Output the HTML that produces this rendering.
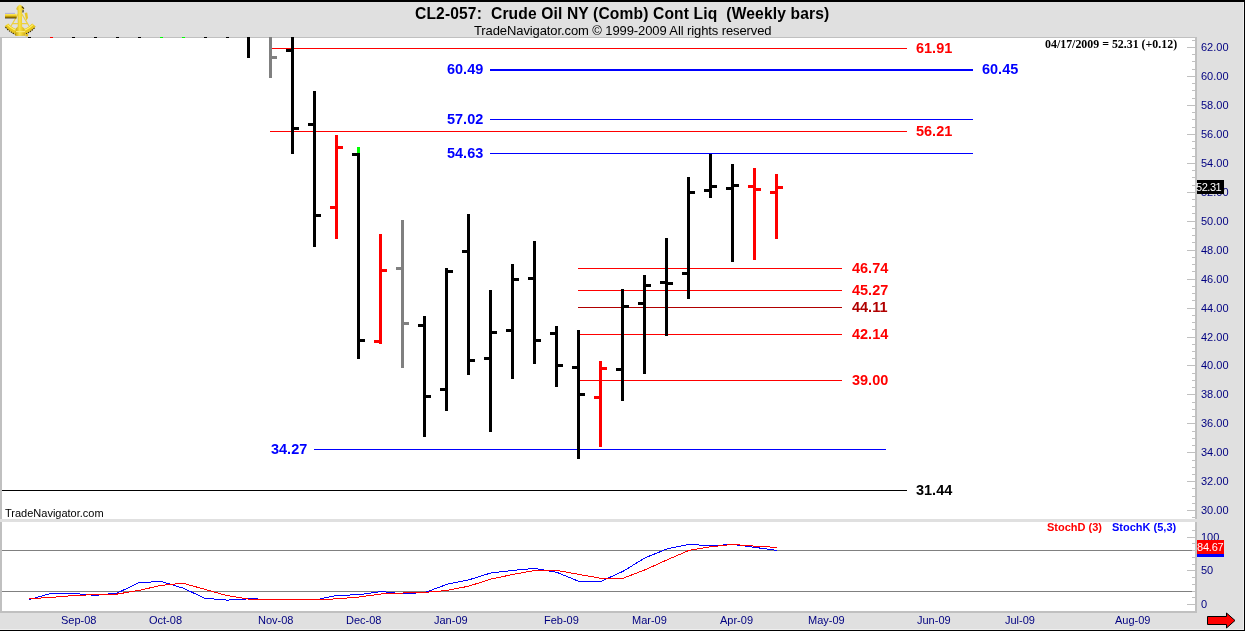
<!DOCTYPE html>
<html><head><meta charset="utf-8"><title>CL2-057</title>
<style>
html,body{margin:0;padding:0}
body{width:1245px;height:631px;overflow:hidden;background:#e0e0e0;position:relative;font-family:"Liberation Sans",sans-serif}
#c{position:absolute;left:0;top:0;width:1245px;height:631px;overflow:hidden;will-change:transform}
#c i{position:absolute;display:block}
.t{position:absolute;white-space:pre;line-height:1}
.pl{font-weight:bold;font-size:15.5px;display:inline-block;transform-origin:0 50%;transform:scaleX(.935)}
.ax{position:absolute;left:1201px;font-size:11px;color:#000080;line-height:12px;white-space:pre}
.dt{position:absolute;top:614px;font-size:11px;color:#000080;line-height:12px;white-space:pre}
</style></head><body><div id="c">
<i style="left:0;top:0;width:1245px;height:2px;background:#000"></i>
<i style="left:2px;top:38px;width:1193px;height:573px;background:#fff"></i>
<i style="left:0;top:37px;width:1197px;height:1px;background:#c0c0c0"></i>
<i style="left:0;top:37px;width:2px;height:576px;background:#c0c0c0"></i>
<i style="left:1195px;top:37px;width:2px;height:576px;background:#c0c0c0"></i>
<i style="left:0;top:611px;width:1197px;height:2px;background:#c0c0c0"></i>
<i style="left:0;top:519px;width:1197px;height:3px;background:#e0e0e0"></i>
<i style="left:1243px;top:2px;width:1px;height:628px;background:#eeeeee"></i>
<i style="left:0;top:629px;width:1244px;height:1px;background:#eeeeee"></i>
<i style="left:1244px;top:0;width:1px;height:631px;background:#000"></i>
<i style="left:0;top:630px;width:1245px;height:1px;background:#000"></i>
<i style="left:2px;top:550px;width:1190px;height:1px;background:#808080"></i>
<i style="left:2px;top:591px;width:1190px;height:1px;background:#808080"></i>
<i style="left:28px;top:37px;width:3px;height:1px;background:#000"></i><i style="left:50px;top:37px;width:3px;height:1px;background:#f00"></i><i style="left:72px;top:37px;width:3px;height:1px;background:#000"></i><i style="left:94px;top:37px;width:3px;height:1px;background:#000"></i><i style="left:116px;top:37px;width:3px;height:1px;background:#000"></i><i style="left:138px;top:37px;width:3px;height:1px;background:#000"></i><i style="left:160px;top:37px;width:3px;height:1px;background:#0f0"></i><i style="left:182px;top:37px;width:3px;height:1px;background:#0f0"></i><i style="left:204px;top:37px;width:3px;height:1px;background:#000"></i><i style="left:226px;top:37px;width:3px;height:1px;background:#000"></i><i style="left:270px;top:48px;width:637px;height:1px;background:#f00"></i><i style="left:490px;top:69px;width:483px;height:2px;background:#00f"></i><i style="left:490px;top:119px;width:483px;height:1px;background:#00f"></i><i style="left:270px;top:131px;width:637px;height:1px;background:#f00"></i><i style="left:490px;top:153px;width:483px;height:1px;background:#00f"></i><i style="left:578px;top:268px;width:264px;height:1px;background:#f00"></i><i style="left:578px;top:290px;width:264px;height:1px;background:#f00"></i><i style="left:578px;top:307px;width:264px;height:1px;background:#b00000"></i><i style="left:578px;top:334px;width:264px;height:1px;background:#f00"></i><i style="left:578px;top:380px;width:264px;height:1px;background:#f00"></i><i style="left:314px;top:449px;width:572px;height:1px;background:#00f"></i><i style="left:2px;top:490px;width:905px;height:1px;background:#000"></i><i style="left:247px;top:37px;width:3px;height:21px;background:#000"></i><i style="left:269px;top:37px;width:3px;height:41px;background:#808080"></i><i style="left:272px;top:56px;width:5px;height:3px;background:#808080"></i><i style="left:291px;top:37px;width:3px;height:117px;background:#000"></i><i style="left:286px;top:49px;width:5px;height:3px;background:#000"></i><i style="left:294px;top:127px;width:5px;height:3px;background:#000"></i><i style="left:313px;top:91px;width:3px;height:156px;background:#000"></i><i style="left:308px;top:123px;width:5px;height:3px;background:#000"></i><i style="left:316px;top:214px;width:5px;height:3px;background:#000"></i><i style="left:335px;top:135px;width:3px;height:104px;background:#f00"></i><i style="left:330px;top:206px;width:5px;height:3px;background:#f00"></i><i style="left:338px;top:146px;width:5px;height:3px;background:#f00"></i><i style="left:357px;top:147px;width:3px;height:212px;background:#000"></i><i style="left:352px;top:153px;width:5px;height:3px;background:#000"></i><i style="left:360px;top:339px;width:5px;height:3px;background:#000"></i><i style="left:379px;top:234px;width:3px;height:110px;background:#f00"></i><i style="left:374px;top:340px;width:5px;height:3px;background:#f00"></i><i style="left:382px;top:269px;width:5px;height:3px;background:#f00"></i><i style="left:401px;top:220px;width:3px;height:148px;background:#808080"></i><i style="left:396px;top:267px;width:5px;height:3px;background:#808080"></i><i style="left:404px;top:322px;width:5px;height:3px;background:#808080"></i><i style="left:423px;top:316px;width:3px;height:121px;background:#000"></i><i style="left:418px;top:324px;width:5px;height:3px;background:#000"></i><i style="left:426px;top:395px;width:5px;height:3px;background:#000"></i><i style="left:445px;top:268px;width:3px;height:143px;background:#000"></i><i style="left:440px;top:388px;width:5px;height:3px;background:#000"></i><i style="left:448px;top:270px;width:5px;height:3px;background:#000"></i><i style="left:467px;top:214px;width:3px;height:161px;background:#000"></i><i style="left:462px;top:250px;width:5px;height:3px;background:#000"></i><i style="left:470px;top:359px;width:5px;height:3px;background:#000"></i><i style="left:489px;top:290px;width:3px;height:142px;background:#000"></i><i style="left:484px;top:357px;width:5px;height:3px;background:#000"></i><i style="left:492px;top:331px;width:5px;height:3px;background:#000"></i><i style="left:511px;top:264px;width:3px;height:115px;background:#000"></i><i style="left:506px;top:329px;width:5px;height:3px;background:#000"></i><i style="left:514px;top:278px;width:5px;height:3px;background:#000"></i><i style="left:533px;top:241px;width:3px;height:123px;background:#000"></i><i style="left:528px;top:277px;width:5px;height:3px;background:#000"></i><i style="left:536px;top:339px;width:5px;height:3px;background:#000"></i><i style="left:555px;top:326px;width:3px;height:61px;background:#000"></i><i style="left:550px;top:332px;width:5px;height:3px;background:#000"></i><i style="left:558px;top:364px;width:5px;height:3px;background:#000"></i><i style="left:577px;top:330px;width:3px;height:129px;background:#000"></i><i style="left:572px;top:366px;width:5px;height:3px;background:#000"></i><i style="left:580px;top:393px;width:5px;height:3px;background:#000"></i><i style="left:599px;top:361px;width:3px;height:86px;background:#f00"></i><i style="left:594px;top:396px;width:5px;height:3px;background:#f00"></i><i style="left:602px;top:367px;width:5px;height:3px;background:#f00"></i><i style="left:621px;top:289px;width:3px;height:112px;background:#000"></i><i style="left:616px;top:368px;width:5px;height:3px;background:#000"></i><i style="left:624px;top:305px;width:5px;height:3px;background:#000"></i><i style="left:643px;top:275px;width:3px;height:99px;background:#000"></i><i style="left:638px;top:302px;width:5px;height:3px;background:#000"></i><i style="left:646px;top:284px;width:5px;height:3px;background:#000"></i><i style="left:665px;top:238px;width:3px;height:98px;background:#000"></i><i style="left:660px;top:281px;width:5px;height:3px;background:#000"></i><i style="left:668px;top:282px;width:5px;height:3px;background:#000"></i><i style="left:687px;top:177px;width:3px;height:122px;background:#000"></i><i style="left:682px;top:272px;width:5px;height:3px;background:#000"></i><i style="left:690px;top:191px;width:5px;height:3px;background:#000"></i><i style="left:709px;top:154px;width:3px;height:44px;background:#000"></i><i style="left:704px;top:189px;width:5px;height:3px;background:#000"></i><i style="left:712px;top:185px;width:5px;height:3px;background:#000"></i><i style="left:731px;top:164px;width:3px;height:98px;background:#000"></i><i style="left:726px;top:187px;width:5px;height:3px;background:#000"></i><i style="left:734px;top:184px;width:5px;height:3px;background:#000"></i><i style="left:753px;top:168px;width:3px;height:92px;background:#f00"></i><i style="left:748px;top:185px;width:5px;height:3px;background:#f00"></i><i style="left:756px;top:188px;width:5px;height:3px;background:#f00"></i><i style="left:775px;top:174px;width:3px;height:65px;background:#f00"></i><i style="left:770px;top:191px;width:5px;height:3px;background:#f00"></i><i style="left:778px;top:186px;width:5px;height:3px;background:#f00"></i><i style="left:357px;top:147px;width:3px;height:6px;background:#0f0"></i><i style="left:1192px;top:40px;width:3px;height:1px;background:#c0c0c0"></i><i style="left:1187px;top:47px;width:8px;height:1px;background:#c0c0c0"></i><i style="left:1192px;top:54px;width:3px;height:1px;background:#c0c0c0"></i><i style="left:1192px;top:61px;width:3px;height:1px;background:#c0c0c0"></i><i style="left:1192px;top:69px;width:3px;height:1px;background:#c0c0c0"></i><i style="left:1187px;top:76px;width:8px;height:1px;background:#c0c0c0"></i><i style="left:1192px;top:83px;width:3px;height:1px;background:#c0c0c0"></i><i style="left:1192px;top:90px;width:3px;height:1px;background:#c0c0c0"></i><i style="left:1192px;top:98px;width:3px;height:1px;background:#c0c0c0"></i><i style="left:1187px;top:105px;width:8px;height:1px;background:#c0c0c0"></i><i style="left:1192px;top:112px;width:3px;height:1px;background:#c0c0c0"></i><i style="left:1192px;top:119px;width:3px;height:1px;background:#c0c0c0"></i><i style="left:1192px;top:127px;width:3px;height:1px;background:#c0c0c0"></i><i style="left:1187px;top:134px;width:8px;height:1px;background:#c0c0c0"></i><i style="left:1192px;top:141px;width:3px;height:1px;background:#c0c0c0"></i><i style="left:1192px;top:148px;width:3px;height:1px;background:#c0c0c0"></i><i style="left:1192px;top:156px;width:3px;height:1px;background:#c0c0c0"></i><i style="left:1187px;top:163px;width:8px;height:1px;background:#c0c0c0"></i><i style="left:1192px;top:170px;width:3px;height:1px;background:#c0c0c0"></i><i style="left:1192px;top:177px;width:3px;height:1px;background:#c0c0c0"></i><i style="left:1192px;top:185px;width:3px;height:1px;background:#c0c0c0"></i><i style="left:1187px;top:192px;width:8px;height:1px;background:#c0c0c0"></i><i style="left:1192px;top:199px;width:3px;height:1px;background:#c0c0c0"></i><i style="left:1192px;top:206px;width:3px;height:1px;background:#c0c0c0"></i><i style="left:1192px;top:213px;width:3px;height:1px;background:#c0c0c0"></i><i style="left:1187px;top:221px;width:8px;height:1px;background:#c0c0c0"></i><i style="left:1192px;top:228px;width:3px;height:1px;background:#c0c0c0"></i><i style="left:1192px;top:235px;width:3px;height:1px;background:#c0c0c0"></i><i style="left:1192px;top:242px;width:3px;height:1px;background:#c0c0c0"></i><i style="left:1187px;top:250px;width:8px;height:1px;background:#c0c0c0"></i><i style="left:1192px;top:257px;width:3px;height:1px;background:#c0c0c0"></i><i style="left:1192px;top:264px;width:3px;height:1px;background:#c0c0c0"></i><i style="left:1192px;top:271px;width:3px;height:1px;background:#c0c0c0"></i><i style="left:1187px;top:279px;width:8px;height:1px;background:#c0c0c0"></i><i style="left:1192px;top:286px;width:3px;height:1px;background:#c0c0c0"></i><i style="left:1192px;top:293px;width:3px;height:1px;background:#c0c0c0"></i><i style="left:1192px;top:300px;width:3px;height:1px;background:#c0c0c0"></i><i style="left:1187px;top:308px;width:8px;height:1px;background:#c0c0c0"></i><i style="left:1192px;top:315px;width:3px;height:1px;background:#c0c0c0"></i><i style="left:1192px;top:322px;width:3px;height:1px;background:#c0c0c0"></i><i style="left:1192px;top:329px;width:3px;height:1px;background:#c0c0c0"></i><i style="left:1187px;top:337px;width:8px;height:1px;background:#c0c0c0"></i><i style="left:1192px;top:344px;width:3px;height:1px;background:#c0c0c0"></i><i style="left:1192px;top:351px;width:3px;height:1px;background:#c0c0c0"></i><i style="left:1192px;top:358px;width:3px;height:1px;background:#c0c0c0"></i><i style="left:1187px;top:365px;width:8px;height:1px;background:#c0c0c0"></i><i style="left:1192px;top:373px;width:3px;height:1px;background:#c0c0c0"></i><i style="left:1192px;top:380px;width:3px;height:1px;background:#c0c0c0"></i><i style="left:1192px;top:387px;width:3px;height:1px;background:#c0c0c0"></i><i style="left:1187px;top:394px;width:8px;height:1px;background:#c0c0c0"></i><i style="left:1192px;top:402px;width:3px;height:1px;background:#c0c0c0"></i><i style="left:1192px;top:409px;width:3px;height:1px;background:#c0c0c0"></i><i style="left:1192px;top:416px;width:3px;height:1px;background:#c0c0c0"></i><i style="left:1187px;top:423px;width:8px;height:1px;background:#c0c0c0"></i><i style="left:1192px;top:431px;width:3px;height:1px;background:#c0c0c0"></i><i style="left:1192px;top:438px;width:3px;height:1px;background:#c0c0c0"></i><i style="left:1192px;top:445px;width:3px;height:1px;background:#c0c0c0"></i><i style="left:1187px;top:452px;width:8px;height:1px;background:#c0c0c0"></i><i style="left:1192px;top:460px;width:3px;height:1px;background:#c0c0c0"></i><i style="left:1192px;top:467px;width:3px;height:1px;background:#c0c0c0"></i><i style="left:1192px;top:474px;width:3px;height:1px;background:#c0c0c0"></i><i style="left:1187px;top:481px;width:8px;height:1px;background:#c0c0c0"></i><i style="left:1192px;top:488px;width:3px;height:1px;background:#c0c0c0"></i><i style="left:1192px;top:496px;width:3px;height:1px;background:#c0c0c0"></i><i style="left:1192px;top:503px;width:3px;height:1px;background:#c0c0c0"></i><i style="left:1187px;top:510px;width:8px;height:1px;background:#c0c0c0"></i><i style="left:1192px;top:517px;width:3px;height:1px;background:#c0c0c0"></i><i style="left:1187px;top:604px;width:8px;height:1px;background:#c0c0c0"></i><i style="left:1192px;top:597px;width:3px;height:1px;background:#c0c0c0"></i><i style="left:1192px;top:591px;width:3px;height:1px;background:#c0c0c0"></i><i style="left:1192px;top:584px;width:3px;height:1px;background:#c0c0c0"></i><i style="left:1192px;top:577px;width:3px;height:1px;background:#c0c0c0"></i><i style="left:1187px;top:570px;width:8px;height:1px;background:#c0c0c0"></i><i style="left:1192px;top:564px;width:3px;height:1px;background:#c0c0c0"></i><i style="left:1192px;top:557px;width:3px;height:1px;background:#c0c0c0"></i><i style="left:1192px;top:550px;width:3px;height:1px;background:#c0c0c0"></i><i style="left:1192px;top:543px;width:3px;height:1px;background:#c0c0c0"></i><i style="left:1187px;top:537px;width:8px;height:1px;background:#c0c0c0"></i><i style="left:1192px;top:530px;width:3px;height:1px;background:#c0c0c0"></i>
<span class="ax" style="top:41px">62.00</span><span class="ax" style="top:70px">60.00</span><span class="ax" style="top:99px">58.00</span><span class="ax" style="top:128px">56.00</span><span class="ax" style="top:157px">54.00</span><span class="ax" style="top:186px">52.00</span><span class="ax" style="top:215px">50.00</span><span class="ax" style="top:244px">48.00</span><span class="ax" style="top:273px">46.00</span><span class="ax" style="top:302px">44.00</span><span class="ax" style="top:331px">42.00</span><span class="ax" style="top:359px">40.00</span><span class="ax" style="top:388px">38.00</span><span class="ax" style="top:417px">36.00</span><span class="ax" style="top:446px">34.00</span><span class="ax" style="top:475px">32.00</span><span class="ax" style="top:504px">30.00</span><span class="ax" style="top:531px">100</span><span class="ax" style="top:564px">50</span><span class="ax" style="top:598px">0</span>
<svg style="position:absolute;left:0;top:0" width="1245" height="631" shape-rendering="crispEdges">
<polyline fill="none" stroke="#00f" stroke-width="1" points="29,599.6 51,593.4 73,593.4 95,595.4 117,593.1 139,582.7 161,581.4 183,588.1 205,598.3 227,600.1 249,598.8 271,599.3 293,599.6 315,600.0 337,595.3 359,594.8 381,591.5 403,593.8 425,592.5 447,584.3 469,579.8 491,572.9 513,570.4 535,568.4 557,572.4 579,581.4 601,581.4 623,571.3 645,557.9 667,548.9 689,544.4 711,545.7 733,544.4 755,547.4 777,550.4"/>
<polyline fill="none" stroke="#f00" stroke-width="1" points="29,598.8 51,597.4 73,595.6 95,594.6 117,594.1 139,590.4 161,585.4 183,583.2 205,589.4 227,595.6 249,599.1 271,599.6 293,599.6 315,599.8 337,598.8 359,597.0 381,594.0 403,593.0 425,592.3 447,590.5 469,586.1 491,579.1 513,574.4 535,570.4 557,570.4 579,574.4 601,578.3 623,578.3 645,569.8 667,559.9 689,550.4 711,546.7 733,544.4 755,546.2 777,547.4"/>
<polygon points="1207.5,616.5 1226.5,616.5 1226.5,613 1235,620.5 1226.5,628 1226.5,624.5 1207.5,624.5" fill="#f00" stroke="#000" stroke-width="1" shape-rendering="auto"/>
</svg>
<svg style="position:absolute;left:2px;top:2px" width="40" height="38" viewBox="2 2 40 38">
<defs><linearGradient id="g1" x1="0" y1="0" x2="0" y2="1"><stop offset="0" stop-color="#fff27a"/><stop offset=".45" stop-color="#ecc81c"/><stop offset=".8" stop-color="#8a6a00"/><stop offset="1" stop-color="#2e2300"/></linearGradient>
<linearGradient id="g2" x1="0" y1="0" x2="1" y2="0"><stop offset="0" stop-color="#c9a410"/><stop offset=".45" stop-color="#fae44a"/><stop offset="1" stop-color="#d6b016"/></linearGradient></defs>
<path d="M20,11 L11,26 M20,11 L29,26 M12,23.5 L28,23.5" stroke="#ecd040" stroke-width="1.25" fill="none"/>
<path d="M4.6,26.2 L8.2,23.6 Q20,36.5 32.2,23.6 L35.8,26.6 Q20,43.5 4.6,26.2 Z" fill="#e9c71e"/>
<path d="M5.4,27.2 Q20,42.8 35,27.4" stroke="#3a2c00" stroke-width="1.1" stroke-dasharray="1.4 0.9" fill="none"/>
<path d="M7.4,24.6 Q20,37.2 33,24.6" stroke="#fff06a" stroke-width="1.2" fill="none"/>
<rect x="5" y="13.6" width="11.6" height="4.8" fill="url(#g1)"/>
<rect x="5" y="12.9" width="10" height="0.9" fill="#9a9ae8" opacity=".8"/>
<path d="M24.6,13 L27.2,12.4 L28,18 L26.2,20.4 Z" fill="#e8c622"/>
<path d="M16.4,8.2 L17.6,6.2 L19.8,4.6 L22.2,6 L24,8.4 L23.4,10 L21.9,10.4 L22.1,26.5 L24.4,28.6 L25.2,35.8 L15.2,36 L15.8,28.6 L17.8,26.5 L17.6,10.2 L16.6,9.8 Z" fill="url(#g2)"/>
<path d="M21.8,6.6 L24,8.6 M23.2,10.2 L22.9,12.5" stroke="#3a2c00" stroke-width="1.2"/>
<path d="M16,31.6 L25,31.6" stroke="#f7e77a" stroke-width="1.2"/>
<rect x="25.4" y="34" width="2.8" height="2.4" fill="#e0bc1c"/>
</svg>
<span class="t" id="title" style="left:415px;top:6px;font-size:15.6px;letter-spacing:0.145px;font-weight:bold;color:#000">CL2-057:  Crude Oil NY (Comb) Cont Liq  (Weekly bars)</span>
<span class="t" id="sub" style="left:474px;top:24px;font-size:13px;letter-spacing:-0.1px;color:#000">TradeNavigator.com © 1999-2009 All rights reserved</span>
<span class="t" id="dateinfo" style="left:1045px;top:39px;font-family:'Liberation Serif',serif;font-weight:bold;font-size:11.9px;color:#000">04/17/2009 = 52.31 (+0.12)</span>
<span class="t pl" style="left:916px;top:40px;color:#f00">61.91</span>
<span class="t pl" style="left:981.6px;top:61px;color:#00f">60.45</span>
<span class="t pl" style="left:447px;top:61px;color:#00f">60.49</span>
<span class="t pl" style="left:447px;top:111px;color:#00f">57.02</span>
<span class="t pl" style="left:916px;top:123px;color:#f00">56.21</span>
<span class="t pl" style="left:447px;top:145px;color:#00f">54.63</span>
<span class="t pl" style="left:852px;top:260px;color:#f00">46.74</span>
<span class="t pl" style="left:852px;top:282px;color:#f00">45.27</span>
<span class="t pl" style="left:852px;top:299px;color:#b00000">44.11</span>
<span class="t pl" style="left:852px;top:326px;color:#f00">42.14</span>
<span class="t pl" style="left:852px;top:372px;color:#f00">39.00</span>
<span class="t pl" style="left:271px;top:441px;color:#00f">34.27</span>
<span class="t pl" style="left:916.3px;top:482px;color:#000">31.44</span>
<span class="t" style="left:5px;top:508px;font-size:11px;color:#000">TradeNavigator.com</span>
<span class="t" style="left:1047px;top:522px;font-size:11px;font-weight:bold;color:#f00">StochD (3)</span>
<span class="t" style="left:1112px;top:522px;font-size:11px;font-weight:bold;color:#00f">StochK (5,3)</span>
<i style="left:1197px;top:180px;width:27px;height:14px;background:#000"></i>
<span class="t" style="left:1196px;top:182px;font-size:11px;letter-spacing:-0.45px;color:#fff">52.31</span>
<i style="left:1197px;top:540px;width:27px;height:14px;background:#f00"></i>
<i style="left:1197px;top:554px;width:27px;height:3px;background:#00f"></i>
<span class="t" style="left:1197px;top:542px;font-size:11px;letter-spacing:-0.2px;color:#fff">84.67</span>
<span class="dt" style="left:61px">Sep-08</span>
<span class="dt" style="left:149px">Oct-08</span>
<span class="dt" style="left:258px">Nov-08</span>
<span class="dt" style="left:346px">Dec-08</span>
<span class="dt" style="left:434px">Jan-09</span>
<span class="dt" style="left:544px">Feb-09</span>
<span class="dt" style="left:632px">Mar-09</span>
<span class="dt" style="left:720px">Apr-09</span>
<span class="dt" style="left:808px">May-09</span>
<span class="dt" style="left:917px">Jun-09</span>
<span class="dt" style="left:1005px">Jul-09</span>
<span class="dt" style="left:1115px">Aug-09</span>
</div></body></html>
